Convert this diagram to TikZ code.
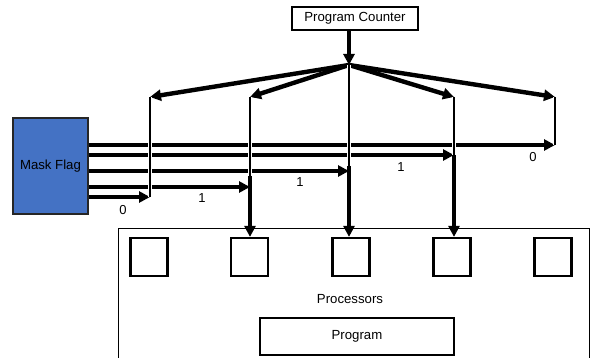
\documentclass[tikz,border=0pt]{standalone}
\usepackage{fontspec}
\setmainfont{Liberation Sans}
\usetikzlibrary{arrows.meta}
\begin{document}
\begin{tikzpicture}[x=1pt,y=-1pt,
  every node/.style={font=\fontsize{13.2}{15}\selectfont, inner sep=0pt},
  thickarrow/.style={line width=4.4pt, -{Triangle[length=11pt,width=11pt]}},
  thinline/.style={line width=2pt, preaction={draw=white, line width=4.4pt}},
  pebox/.style={draw, line width=2.2pt, minimum width=37pt, minimum height=38pt},
  lbl/.style={font=\fontsize{13}{15}\selectfont}
]
\useasboundingbox (0,0) rectangle (590,358);
\clip (0,0) rectangle (590,358);

% Program counter
\node[draw, line width=2pt, minimum width=126pt, minimum height=23pt] (pc) at (355,18.5) {Program Counter};
\coordinate (hub) at (349,65);

% Mask flag
\node[draw=black!85, line width=1.6pt, fill={rgb,255:red,68;green,114;blue,196}, minimum width=75pt, minimum height=96pt] (mask) at (50.5,166) {Mask Flag};

% Processors container
\node[draw, line width=1.3pt, minimum width=471pt, minimum height=150pt, anchor=north west] (proc) at (118,228) {};
\node (proctext) at (350,299) {Processors};
\node[draw, line width=2.2pt, minimum width=194pt, minimum height=37pt] (prog) at (357,336.5) {Program};

% Processing elements
\node[pebox] (p1) at (149,257) {};
\node[pebox] (p2) at (249.5,257) {};
\node[pebox] (p3) at (351,257) {};
\node[pebox] (p4) at (452,257) {};
\node[pebox] (p5) at (553,257) {};

% top points of branch lines
\coordinate (t1) at (150,97);
\coordinate (t2) at (250,97);
\coordinate (t4) at (454,97);
\coordinate (t5) at (555,97);
% junctions
\coordinate (j1) at (150,197);
\coordinate (j2) at (250,187);
\coordinate (j3) at (349,171);
\coordinate (j4) at (454,155);
\coordinate (j5) at (555,145);
% start of thick drop lines
\coordinate (d2) at (250,176);
\coordinate (d3) at (349,166);
\coordinate (d4) at (454,155);

% PC to hub
\draw[thickarrow] (pc.south -| hub) -- (hub);
% hub to branches
\draw[thickarrow] (hub) -- (t1);
\draw[thickarrow] (hub) -- (t2);
\draw[thickarrow] (hub) -- (t4);
\draw[thickarrow] (hub) -- (t5);

% mask flag lines
\draw[thickarrow] (mask.east |- j5) -- (j5);
\draw[thickarrow] (mask.east |- j4) -- (j4);
\draw[thickarrow] (mask.east |- j3) -- (j3);
\draw[thickarrow] (mask.east |- j2) -- (j2);
\draw[thickarrow] (mask.east |- j1) -- (j1);

% thin vertical lines
\draw[thinline] (t1) -- (j1);
\draw[thinline] (t2) -- (d2);
\draw[thinline] (hub) -- (d3);
\draw[thinline] (t4) -- (d4);
\draw[thinline] (t5) -- (j5);

% thick drops to processors
\draw[thickarrow] (d2) -- (d2 |- p2.north);
\draw[thickarrow] (d3) -- (d3 |- p3.north);
\draw[thickarrow] (d4) -- (d4 |- p4.north);

% labels
\node[lbl] (l1) at (123,210) {0};
\node[lbl] (l2) at (202,198) {1};
\node[lbl] (l3) at (300,182) {1};
\node[lbl] (l4) at (401,167) {1};
\node[lbl] (l5) at (533,157) {0};
\end{tikzpicture}
\end{document}
